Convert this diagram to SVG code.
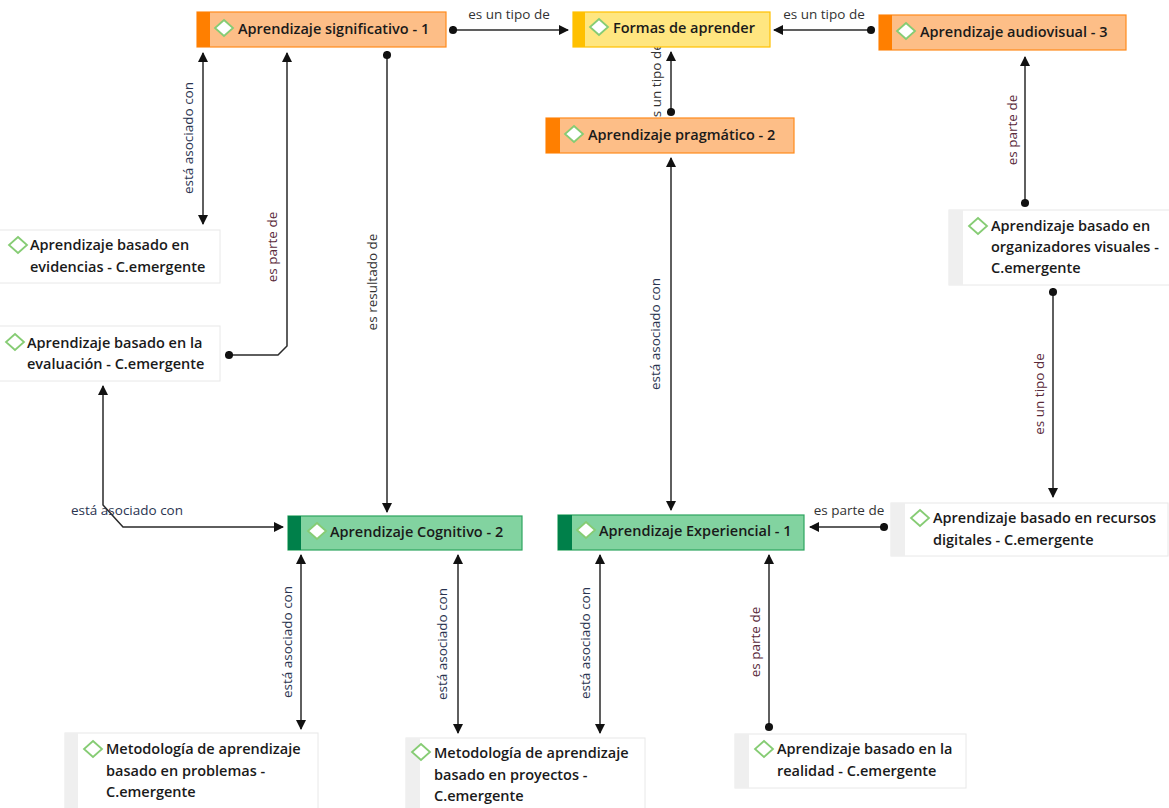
<svg xmlns="http://www.w3.org/2000/svg" width="1169" height="808" viewBox="0 0 1169 808">
<style>
.t{font-family:"Open Sans","Liberation Sans",sans-serif;font-size:14.5px;font-weight:600;fill:#1a1a1a}
.l{font-family:"Open Sans","Liberation Sans",sans-serif;font-size:13.5px;font-weight:400}
.la{fill:#2a3450}
.lp{fill:#5a2a3a}
.lg{fill:#333}
.c{fill:none;stroke:#2a2a2a;stroke-width:1.5}
.or{fill:#fdbe87;stroke:#ff8a1c;stroke-width:1.2}
.orb{fill:#ff7f00}
.ye{fill:#ffe680;stroke:#ffc000;stroke-width:1.2}
.yeb{fill:#ffc000}
.gr{fill:#82d3a0;stroke:#2da55f;stroke-width:1.2}
.grb{fill:#00804a}
.em{fill:#fff;stroke:#e8e8e8;stroke-width:1}
.emb{fill:#efefef}
.dm{fill:#fff;stroke:#86cc74;stroke-width:1.8}
</style>
<defs>
<marker id="ar" viewBox="0 0 10 10" refX="9" refY="5" markerWidth="10" markerHeight="10" markerUnits="userSpaceOnUse" orient="auto-start-reverse"><path d="M0,0 L10,5 L0,10 z" fill="#111"/></marker>
<marker id="dt" viewBox="0 0 10 10" refX="5" refY="5" markerWidth="9" markerHeight="9" markerUnits="userSpaceOnUse"><circle cx="5" cy="5" r="4.5" fill="#111"/></marker>
<path id="dia" d="M0,-8 L9,0 L0,8 L-9,0 z"/>
</defs>
<rect width="1169" height="808" fill="#fff"/>
<g id="connectors">
<path class="c" d="M453,30 H568" marker-start="url(#dt)" marker-end="url(#ar)"/>
<text class="l lg" x="509" y="19" text-anchor="middle">es un tipo de</text>
<path class="c" d="M871,30 H774" marker-start="url(#dt)" marker-end="url(#ar)"/>
<text class="l lg" x="824" y="19" text-anchor="middle">es un tipo de</text>
<path class="c" d="M671,112 V52" marker-start="url(#dt)" marker-end="url(#ar)"/>
<text class="l lg" transform="translate(661,84) rotate(-90)" text-anchor="middle">es un tipo de</text>
<path class="c" d="M1025,203 V57" marker-start="url(#dt)" marker-end="url(#ar)"/>
<text class="l lp" transform="translate(1017,130) rotate(-90)" text-anchor="middle">es parte de</text>
<path class="c" d="M1053,292 V497" marker-start="url(#dt)" marker-end="url(#ar)"/>
<text class="l lp" transform="translate(1044,394) rotate(-90)" text-anchor="middle">es un tipo de</text>
<path class="c" d="M884,527 H810" marker-start="url(#dt)" marker-end="url(#ar)"/>
<text class="l lg" x="849" y="515" text-anchor="middle">es parte de</text>
<path class="c" d="M671,158 V510" marker-start="url(#ar)" marker-end="url(#ar)"/>
<text class="l la" transform="translate(660,334) rotate(-90)" text-anchor="middle">está asociado con</text>
<path class="c" d="M203,53 V224" marker-start="url(#ar)" marker-end="url(#ar)"/>
<text class="l la" transform="translate(193,138) rotate(-90)" text-anchor="middle">está asociado con</text>
<path class="c" d="M229,355 H278 L287,346 V53" marker-start="url(#dt)" marker-end="url(#ar)"/>
<text class="l lp" transform="translate(277,247) rotate(-90)" text-anchor="middle">es parte de</text>
<path class="c" d="M387,55 V512" marker-start="url(#dt)" marker-end="url(#ar)"/>
<text class="l lg" transform="translate(377,282) rotate(-90)" text-anchor="middle">es resultado de</text>
<path class="c" d="M103,386 V505 L123,527 H283" marker-start="url(#ar)" marker-end="url(#ar)"/>
<text class="l la" x="127" y="515" text-anchor="middle">está asociado con</text>
<path class="c" d="M301,555 V729" marker-start="url(#ar)" marker-end="url(#ar)"/>
<text class="l la" transform="translate(292,642) rotate(-90)" text-anchor="middle">está asociado con</text>
<path class="c" d="M458,555 V733" marker-start="url(#ar)" marker-end="url(#ar)"/>
<text class="l la" transform="translate(447,644) rotate(-90)" text-anchor="middle">está asociado con</text>
<path class="c" d="M600,555 V733" marker-start="url(#ar)" marker-end="url(#ar)"/>
<text class="l la" transform="translate(590,643) rotate(-90)" text-anchor="middle">está asociado con</text>
<path class="c" d="M769,727 V555" marker-start="url(#dt)" marker-end="url(#ar)"/>
<text class="l lp" transform="translate(760,642) rotate(-90)" text-anchor="middle">es parte de</text>
</g>
<g id="n-significativo">
<rect class="or" x="197" y="12" width="249" height="35"/>
<rect class="orb" x="197" y="12" width="13" height="35"/>
<use href="#dia" class="dm" x="224" y="28"/>
<text class="t" x="238" y="34">Aprendizaje significativo - 1</text>
</g>
<g id="n-formas">
<rect class="ye" x="573" y="12" width="197" height="35"/>
<rect class="yeb" x="573" y="12" width="12" height="35"/>
<use href="#dia" class="dm" x="599" y="27"/>
<text class="t" x="613" y="33">Formas de aprender</text>
</g>
<g id="n-audiovisual">
<rect class="or" x="879" y="15" width="247" height="35"/>
<rect class="orb" x="879" y="15" width="13" height="35"/>
<use href="#dia" class="dm" x="906" y="31"/>
<text class="t" x="920" y="37">Aprendizaje audiovisual - 3</text>
</g>
<g id="n-pragmatico">
<rect class="or" x="546" y="118" width="248" height="35"/>
<rect class="orb" x="546" y="118" width="14" height="35"/>
<use href="#dia" class="dm" x="574" y="134"/>
<text class="t" x="588" y="140">Aprendizaje pragmático - 2</text>
</g>
<g id="n-cognitivo">
<rect class="gr" x="288" y="516" width="234" height="34"/>
<rect class="grb" x="288" y="516" width="13" height="34"/>
<use href="#dia" class="dm" x="317" y="531"/>
<text class="t" x="330" y="537">Aprendizaje Cognitivo - 2</text>
</g>
<g id="n-experiencial">
<rect class="gr" x="558" y="515" width="246" height="35"/>
<rect class="grb" x="558" y="515" width="14" height="35"/>
<use href="#dia" class="dm" x="586" y="530"/>
<text class="t" x="599" y="536">Aprendizaje Experiencial - 1</text>
</g>
<g id="n-evidencias">
<rect class="em" x="-20" y="230" width="240" height="53"/>
<use href="#dia" class="dm" x="18" y="245"/>
<text class="t" x="30" y="250">Aprendizaje basado en</text>
<text class="t" x="30" y="272">evidencias - C.emergente</text>
</g>
<g id="n-evaluacion">
<rect class="em" x="-20" y="326" width="240" height="55"/>
<use href="#dia" class="dm" x="15" y="342"/>
<text class="t" x="27" y="348">Aprendizaje basado en la</text>
<text class="t" x="27" y="369">evaluación - C.emergente</text>
</g>
<g id="n-organizadores">
<rect class="em" x="949" y="210" width="230" height="75"/>
<rect class="emb" x="949" y="210" width="14" height="75"/>
<use href="#dia" class="dm" x="978" y="226"/>
<text class="t" x="991" y="231">Aprendizaje basado en</text>
<text class="t" x="991" y="252">organizadores visuales -</text>
<text class="t" x="991" y="273">C.emergente</text>
</g>
<g id="n-recursos">
<rect class="em" x="891" y="503" width="277" height="53"/>
<rect class="emb" x="891" y="503" width="14" height="53"/>
<use href="#dia" class="dm" x="920" y="518"/>
<text class="t" x="933" y="523">Aprendizaje basado en recursos</text>
<text class="t" x="933" y="545">digitales - C.emergente</text>
</g>
<g id="n-problemas">
<rect class="em" x="65" y="733" width="253" height="85"/>
<rect class="emb" x="65" y="733" width="13" height="85"/>
<use href="#dia" class="dm" x="93" y="749"/>
<text class="t" x="106" y="754">Metodología de aprendizaje</text>
<text class="t" x="106" y="776">basado en problemas -</text>
<text class="t" x="106" y="797">C.emergente</text>
</g>
<g id="n-proyectos">
<rect class="em" x="406" y="738" width="239" height="80"/>
<rect class="emb" x="406" y="738" width="14" height="80"/>
<use href="#dia" class="dm" x="421" y="752"/>
<text class="t" x="434" y="758">Metodología de aprendizaje</text>
<text class="t" x="434" y="780">basado en proyectos -</text>
<text class="t" x="434" y="801">C.emergente</text>
</g>
<g id="n-realidad">
<rect class="em" x="735" y="734" width="231" height="54"/>
<rect class="emb" x="735" y="734" width="14" height="54"/>
<use href="#dia" class="dm" x="764" y="749"/>
<text class="t" x="777" y="754">Aprendizaje basado en la</text>
<text class="t" x="777" y="776">realidad - C.emergente</text>
</g>
</svg>
